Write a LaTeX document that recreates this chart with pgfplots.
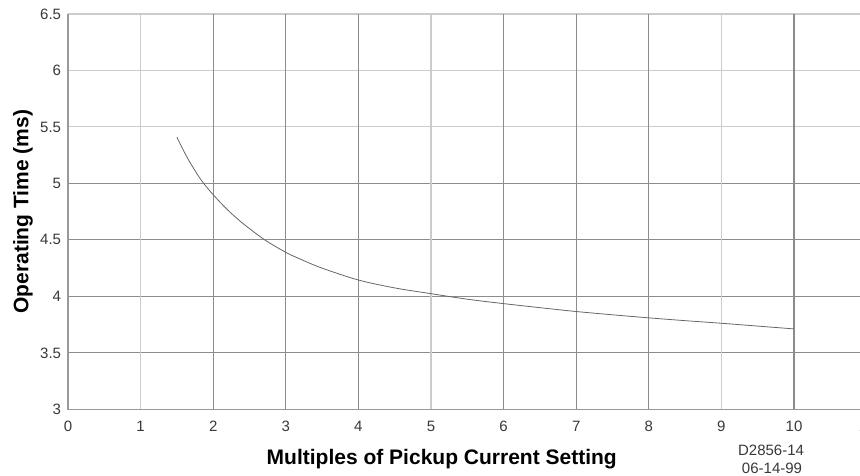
\documentclass[border=0pt]{standalone}
\usepackage{fontspec}
\setmainfont{Liberation Sans}
\usepackage{pgfplots}
\pgfplotsset{compat=1.18}
\definecolor{gridlight}{gray}{0.80}
\definecolor{griddark}{gray}{0.55}
\definecolor{axisgray}{gray}{0.6}
\definecolor{curvegray}{gray}{0.4}
\definecolor{txt}{gray}{0.22}
\begin{document}
\begin{tikzpicture}
\begin{axis}[
  at={(0,0)}, anchor=south west,
  scale only axis, width=598.95pt, height=296.5pt,
  xmin=0, xmax=11, ymin=3, ymax=6.5,
  xtick={0,1,2,3,4,5,6,7,8,9,10,11},
  ytick={3,3.5,4,4.5,5,5.5,6,6.5},
  yticklabels={3,3.5,4,4.5,5,5.5,6,6.5},
  major tick length=0pt,
  axis line style={draw=none},
  tick style={draw=none},
  /pgf/number format/assume math mode=true,
  tick label style={font=\fontsize{11.25}{13}\selectfont, text=txt},
  xticklabel style={anchor=center, yshift=-12.5pt},
  yticklabel style={anchor=east, inner sep=0pt, xshift=-5pt},
  clip=false,
]
% grid lines
\draw[gridlight, line width=0.8pt] (axis cs:0,6.5) -- (axis cs:11,6.5);
\draw[gridlight, line width=0.8pt] (axis cs:0,6) -- (axis cs:11,6);
\draw[gridlight, line width=0.8pt] (axis cs:0,5.5) -- (axis cs:11,5.5);
\draw[griddark, line width=0.8pt] (axis cs:0,5) -- (axis cs:11,5);
\draw[griddark, line width=0.8pt] (axis cs:0,4.5) -- (axis cs:11,4.5);
\draw[griddark, line width=0.8pt] (axis cs:0,4) -- (axis cs:11,4);
\draw[griddark, line width=0.8pt] (axis cs:0,3.5) -- (axis cs:11,3.5);
\draw[gridlight, line width=0.8pt] (axis cs:1,3) -- (axis cs:1,6.5);
\draw[griddark, line width=0.8pt] (axis cs:2,3) -- (axis cs:2,6.5);
\draw[griddark, line width=0.8pt] (axis cs:3,3) -- (axis cs:3,6.5);
\draw[griddark, line width=0.8pt] (axis cs:4,3) -- (axis cs:4,6.5);
\draw[gridlight, line width=0.8pt] (axis cs:5,3) -- (axis cs:5,6.5);
\draw[griddark, line width=0.8pt] (axis cs:6,3) -- (axis cs:6,6.5);
\draw[griddark, line width=0.8pt] (axis cs:7,3) -- (axis cs:7,6.5);
\draw[griddark, line width=0.8pt] (axis cs:8,3) -- (axis cs:8,6.5);
\draw[gridlight, line width=0.8pt] (axis cs:9,3) -- (axis cs:9,6.5);
\draw[griddark, line width=0.8pt] (axis cs:10,3) -- (axis cs:10,6.5);
% curve
\addplot[curvegray, line width=0.6pt, smooth, tension=0.55] coordinates {
(1.50,5.41) (1.60,5.28) (1.70,5.165) (1.84,5.025) (2.0,4.90) (2.2,4.765)
(2.4,4.65) (2.5,4.60) (2.71,4.50) (3.0,4.39) (3.2,4.33) (3.5,4.25)
(4.0,4.145) (4.5,4.075) (5.0,4.024) (5.5,3.975) (6.0,3.936) (6.5,3.90)
(7.0,3.866) (7.5,3.837) (8.0,3.81) (8.5,3.785) (9.0,3.762) (9.5,3.737)
(10.0,3.712)};
% axis lines
\draw[axisgray, line width=1pt] (axis cs:0,6.5) -- (axis cs:0,3) -- (axis cs:11,3);
% labels
\path (rel axis cs:0,0.5) ++(-33.75pt,0pt) node[font=\bfseries\fontsize{15.75}{18}\selectfont, rotate=90] {Operating Time (ms)};
\path (rel axis cs:0.468,0) ++(0pt,-37.3pt) node[font=\bfseries\fontsize{15.75}{18}\selectfont] {Multiples of Pickup Current Setting};
\path (rel axis cs:0,0) ++(527.3pt,-30.5pt) node[font=\fontsize{11.25}{13}\selectfont, text=txt] {D2856-14};
\path (rel axis cs:0,0) ++(528pt,-44pt) node[font=\fontsize{11.25}{13}\selectfont, text=txt] {06-14-99};
\end{axis}
\pgfresetboundingbox
\path[use as bounding box] (-51pt,-49.3pt) rectangle (594pt,307pt);
\end{tikzpicture}
\end{document}
